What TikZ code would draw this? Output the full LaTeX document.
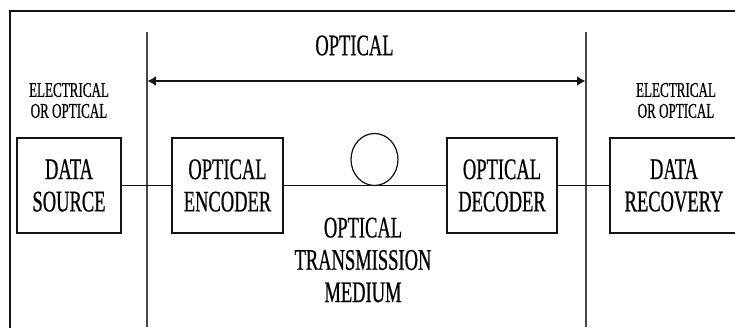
\documentclass[tikz,border=0pt]{standalone}
\usepackage{fontspec}
\setmainfont{Liberation Serif}[FakeStretch=0.62,FakeBold=0.6]
\usetikzlibrary{arrows.meta,positioning,shapes.geometric}
\definecolor{ink}{RGB}{20,20,20}
\definecolor{grey}{RGB}{70,70,70}

\begin{document}
\begin{tikzpicture}[x=0.02cm,y=-0.02cm,>={Latex[length=0.17cm,width=0.2cm]},
 font=\fontsize{17pt}{18.4pt}\selectfont,
 b/.style={draw=ink,line width=0.7pt,align=center,inner sep=0pt,minimum height=1.9cm},
 n/.style={font=\fontsize{12pt}{11.9pt}\selectfont,align=center,inner sep=0pt},
 sep/.style={draw=grey,line width=0.6pt}]
 \useasboundingbox (0,0) rectangle (735,328);
 \clip (0,0) rectangle (735,328);
 \draw[ink,line width=1.5pt] (10,11) rectangle (760,350);
 % boundaries of the optical part
 \coordinate (l1) at (147,32);
 \coordinate (l2) at (147,327);
 \coordinate (r1) at (586,32);
 \coordinate (r2) at (586,327);
 \draw[sep] (l1) -- (l2);
 \draw[sep] (r1) -- (r2);
 \coordinate (a1) at (147.5,81);
 \coordinate (a2) at (585.5,81);
 \draw[<->,ink,line width=0.9pt] (a1) -- (a2);
 \node (opt) at (354.5,45.5) {OPTICAL};
 \node[n] (eo1) at (69,100.5) {ELECTRICAL\\OR OPTICAL};
 \node[n] (eo2) at (676,100.5) {ELECTRICAL\\OR OPTICAL};
 % blocks
 \node[b,minimum width=2.08cm] (src) at (69,185.5) {DATA\\SOURCE};
 \node[b,minimum width=2.22cm] (enc) at (227.5,185.5) {OPTICAL\\ENCODER};
 \node[b,minimum width=2.2cm] (dec) at (502,185.5) {OPTICAL\\DECODER};
 \node[b,minimum width=2.56cm] (rec) at (674,185.5) {DATA\\RECOVERY};
 \node[draw=ink,line width=0.7pt,ellipse,inner sep=0pt,minimum width=0.94cm,minimum height=1.04cm] (loop) at (374.5,159.5) {};
 \node[align=center] (med) at (363,260) {OPTICAL\\TRANSMISSION\\MEDIUM};
 \draw[ink,line width=0.7pt] (src) -- (enc);
 \draw[ink,line width=0.7pt] (enc) -- (dec);
 \draw[ink,line width=0.7pt] (dec) -- (rec);
\end{tikzpicture}
\end{document}
